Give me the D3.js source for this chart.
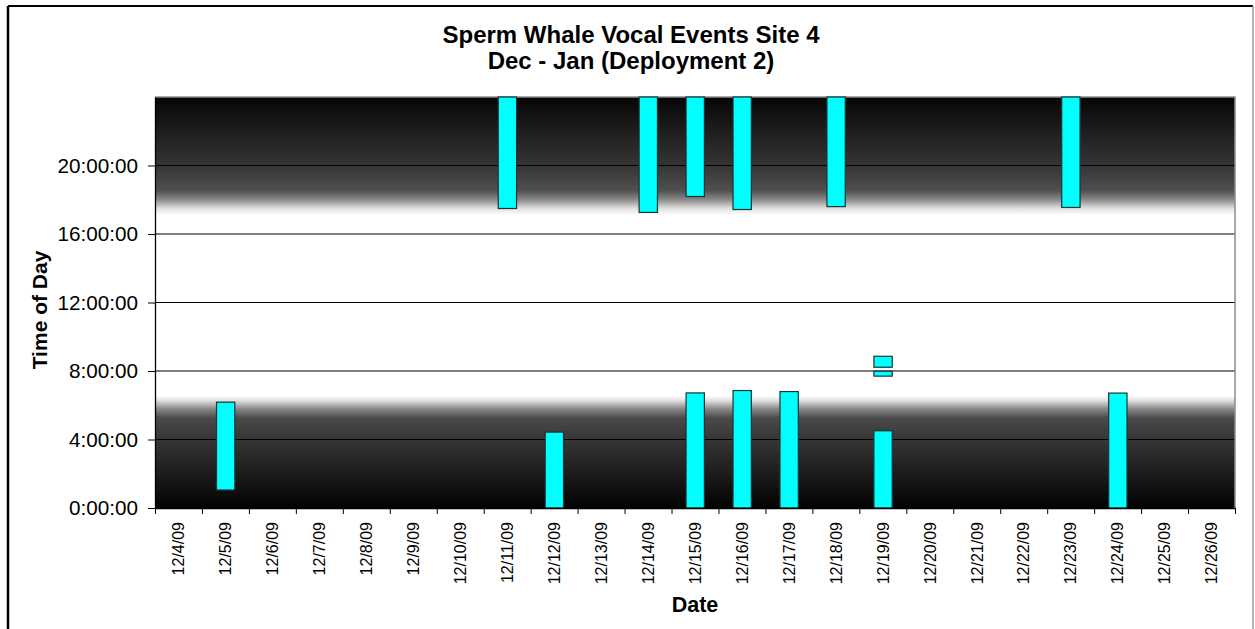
<!DOCTYPE html>
<html>
<head>
<meta charset="utf-8">
<script src="https://cdn.jsdelivr.net/npm/d3@7"></script>
<style>
  body { margin: 0; background: #fff; }
  text { font-family: Arial, "Liberation Sans", sans-serif; }
</style>
</head>
<body>
<div id="chart"></div>
<script>
// categories (one per day)
const dates = ["12/4/09", "12/5/09", "12/6/09", "12/7/09", "12/8/09", "12/9/09", "12/10/09",
  "12/11/09", "12/12/09", "12/13/09", "12/14/09", "12/15/09", "12/16/09", "12/17/09",
  "12/18/09", "12/19/09", "12/20/09", "12/21/09", "12/22/09", "12/23/09", "12/24/09",
  "12/25/09", "12/26/09"];

// vocal events: date, start hour, end hour
const eventDate  = ["12/5/09", "12/11/09", "12/12/09", "12/14/09", "12/15/09", "12/15/09",
  "12/16/09", "12/16/09", "12/17/09", "12/18/09", "12/19/09", "12/19/09", "12/19/09",
  "12/23/09", "12/24/09"];
const eventStart = [1.05, 17.49, 0, 17.26, 18.19, 0, 17.43, 0, 0, 17.6, 0, 7.70, 8.22, 17.55, 0];
const eventEnd   = [6.18, 24, 4.43, 24, 24, 6.72, 24, 6.86, 6.80, 24, 4.51, 7.99, 8.86, 24, 6.71];

// y ticks
const yTicks = [0, 4, 8, 12, 16, 20];
const yTickLabels = ["0:00:00", "4:00:00", "8:00:00", "12:00:00", "16:00:00", "20:00:00"];

const width = 1255;
const height = 629;
const margin = {t: 97, b: 121, l: 155, r: 20};

const svg = d3.select("#chart")
    .append("svg")
    .attr("width", width)
    .attr("height", height);

// outer frame
svg.append("line").attr("x1", 8).attr("y1", 6).attr("x2", 8).attr("y2", height)
    .attr("stroke", "#000").attr("stroke-width", 2.5);
svg.append("line").attr("x1", 8).attr("y1", 6).attr("x2", 1253).attr("y2", 6)
    .attr("stroke", "#000").attr("stroke-width", 2);
svg.append("line").attr("x1", 1253).attr("y1", 6).attr("x2", 1253).attr("y2", height)
    .attr("stroke", "#999").attr("stroke-width", 1.5);

const xScale = d3.scaleBand()
    .domain(dates)
    .range([margin.l, width - margin.r])
    .padding(0);

const tickScale = d3.scaleLinear()
    .domain([0, dates.length])
    .range([margin.l, width - margin.r]);

const yScale = d3.scaleLinear()
    .domain([0, 24])
    .range([height - margin.b, margin.t]);

// night shading
const defs = svg.append("defs");
const topGrad = defs.append("linearGradient")
    .attr("id", "topGrad")
    .attr("gradientUnits", "userSpaceOnUse")
    .attr("x1", 0).attr("x2", 0)
    .attr("y1", yScale(24)).attr("y2", yScale(17));
[[24, "#060606"], [20, "#353535"], [18.55, "#4f4f4f"], [18.0, "#8a8a8a"], [17.5, "#e0e0e0"], [17.1, "#ffffff"]]
    .forEach(s => topGrad.append("stop")
        .attr("offset", (24 - s[0]) / 7)
        .attr("stop-color", s[1]));

const botGrad = defs.append("linearGradient")
    .attr("id", "botGrad")
    .attr("gradientUnits", "userSpaceOnUse")
    .attr("x1", 0).attr("x2", 0)
    .attr("y1", yScale(0)).attr("y2", yScale(7));
[[0, "#020202"], [4, "#363636"], [5.25, "#4a4a4a"], [5.8, "#8a8a8a"], [6.25, "#dcdcdc"], [6.55, "#ffffff"]]
    .forEach(s => botGrad.append("stop")
        .attr("offset", s[0] / 7)
        .attr("stop-color", s[1]));

svg.append("rect")
    .attr("x", margin.l)
    .attr("y", yScale(24))
    .attr("width", width - margin.r - margin.l)
    .attr("height", yScale(17) - yScale(24))
    .attr("fill", "url(#topGrad)");
svg.append("rect")
    .attr("x", margin.l)
    .attr("y", yScale(7))
    .attr("width", width - margin.r - margin.l)
    .attr("height", yScale(0) - yScale(7))
    .attr("fill", "url(#botGrad)");

// grid lines
svg.append("g")
    .selectAll("line")
    .data(yTicks.filter(d => d > 0))
    .join("line")
    .attr("x1", margin.l)
    .attr("x2", width - margin.r)
    .attr("y1", d => yScale(d))
    .attr("y2", d => yScale(d))
    .attr("stroke", "#000")
    .attr("stroke-width", 1.2);

// plot border (top/right)
svg.append("path")
    .attr("d", `M${margin.l},${yScale(24)}H${width - margin.r}V${yScale(0)}`)
    .attr("fill", "none")
    .attr("stroke", "#8c8c8c")
    .attr("stroke-width", 1.5);

// bars
const events = eventDate.map((d, i) => ({date: d, start: eventStart[i], end: eventEnd[i]}));
svg.append("g")
    .selectAll("rect")
    .data(events)
    .join("rect")
    .attr("x", d => xScale(d.date) + xScale.bandwidth() * 0.31)
    .attr("width", xScale.bandwidth() * 0.39)
    .attr("y", d => yScale(d.end))
    .attr("height", d => yScale(d.start) - yScale(d.end))
    .attr("fill", "#00ffff")
    .attr("stroke", "#1c3333")
    .attr("stroke-width", 1.2);

// x axis
svg.append("g")
    .attr("transform", `translate(0, ${yScale(0)})`)
    .call(d3.axisBottom(tickScale).tickValues(d3.range(dates.length + 1)).tickFormat("").tickSize(6).tickSizeOuter(0))
    .call(g => g.select(".domain").attr("stroke-width", 1.3));

svg.append("g")
    .attr("transform", `translate(0, ${yScale(0)})`)
    .call(d3.axisBottom(xScale).tickSize(0))
    .call(g => g.select(".domain").remove())
    .selectAll("text")
    .attr("transform", "rotate(-90)")
    .attr("text-anchor", "end")
    .attr("x", -14)
    .attr("y", 0)
    .attr("dy", "0.36em")
    .attr("font-size", "16px")
    .attr("fill", "#000");

// y axis
svg.append("g")
    .attr("transform", `translate(${margin.l}, 0)`)
    .call(d3.axisLeft(yScale).tickValues(yTicks).tickFormat((d, i) => yTickLabels[i]).tickSize(7).tickPadding(10).tickSizeOuter(0))
    .call(g => g.select(".domain").attr("stroke-width", 1.3))
    .selectAll("text")
    .attr("font-size", "20.7px")
    .attr("fill", "#000");

// labels
svg.append("text")
    .attr("x", 631)
    .attr("y", 43)
    .attr("text-anchor", "middle")
    .attr("font-size", "24px")
    .attr("font-weight", "bold")
    .text("Sperm Whale Vocal Events Site 4");
svg.append("text")
    .attr("x", 631)
    .attr("y", 69)
    .attr("text-anchor", "middle")
    .attr("font-size", "24px")
    .attr("font-weight", "bold")
    .text("Dec - Jan (Deployment 2)");

svg.append("text")
    .attr("transform", "rotate(-90)")
    .attr("x", -310)
    .attr("y", 47)
    .attr("text-anchor", "middle")
    .attr("font-size", "21px")
    .attr("font-weight", "bold")
    .text("Time of Day");

svg.append("text")
    .attr("x", 695)
    .attr("y", 612)
    .attr("text-anchor", "middle")
    .attr("font-size", "21.5px")
    .attr("font-weight", "bold")
    .text("Date");
</script>
</body>
</html>
